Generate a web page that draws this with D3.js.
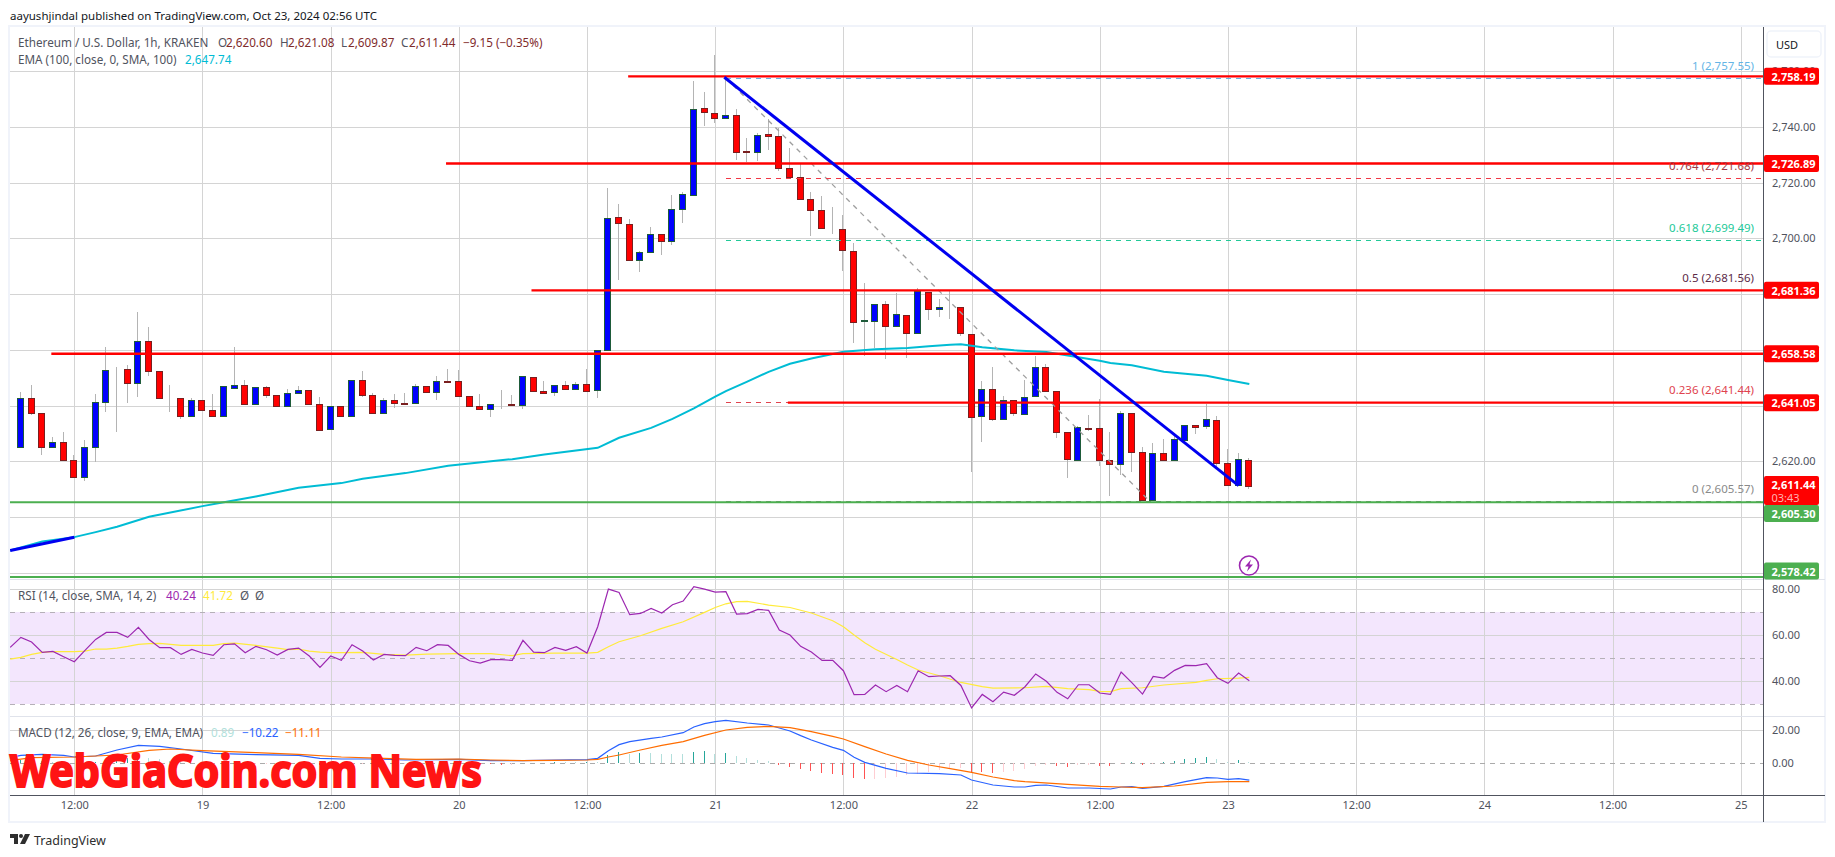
<!DOCTYPE html>
<html>
<head>
<meta charset="utf-8">
<title>ETH/USD 1h</title>
<script src="https://cdn.jsdelivr.net/npm/d3@7"></script>
<style>
	html, body { margin: 0; padding: 0; background: #fff; }
	svg { display: block; }
	text { font-family: "Noto Sans", sans-serif; }
	.domain { display: none; }
</style>
</head>
<body>
<div id="chart"></div>
<script>
// hourly candles, first one is Oct 18 06:00, last one Oct 23 02:00
var opens = [2625.08,2625.08,2642.67,2637.29,2624.96,2626.87,2620.41,2614.19,2624.96,2641.1,2653.08,2653.08,2647.94,2663.13,2652.36,2642.6,2642.67,2636.2,2641.95,2638.36,2636.09,2646.14,2647.34,2640.4,2646.62,2643.75,2639.68,2644.35,2645.54,2640.52,2631.42,2639.8,2636.09,2649.13,2643.75,2637.17,2641.95,2640.9,2640.76,2646.98,2644.7,2648.9,2648.77,2643.39,2639.8,2638.6,2640.5,2640.6,2640.04,2650.21,2645.18,2644.7,2647.34,2645.78,2647.7,2645.54,2659.78,2707.58,2705.07,2692.02,2695.01,2701.47,2698.96,2710.45,2715.84,2746.71,2745.15,2743.48,2744.44,2731.4,2731.27,2737.38,2736.66,2725.17,2721.94,2714.04,2710.09,2703.7,2703.27,2695.61,2670.5,2670.6,2676.59,2668.81,2672.63,2666.18,2680.65,2674.43,2675.3,2675.27,2665.8,2636.02,2645.83,2634.94,2641.88,2637.1,2643.2,2653.73,2645.1,2630.4,2620.22,2631.9,2631.83,2620.34,2618.79,2637.22,2623.22,2605.87,2622.86,2620.22,2627.88,2633.15,2632.43,2634.7,2619.27,2611.25,2620.6];
var highs = [2625.2,2644.8,2647.46,2637.29,2628.67,2630.47,2622.33,2627.71,2644.1,2660.98,2653.8,2654.6,2673.54,2668.28,2652.36,2647.34,2642.67,2642.67,2641.95,2644.1,2646.98,2660.98,2649.25,2646.62,2647.1,2643.75,2646.02,2647.1,2645.54,2642.91,2639.8,2639.8,2649.13,2652.48,2644.47,2642.67,2644.23,2644.6,2647.81,2646.98,2650.69,2653.2,2652.84,2643.39,2644.23,2640.52,2645.66,2643.87,2650.57,2650.21,2648.9,2647.34,2648.9,2648.53,2653.08,2659.9,2718,2712.36,2706.98,2695.49,2703.99,2701.47,2715.6,2716.56,2756.52,2752.57,2765.85,2757.84,2746.35,2736.06,2737.74,2742.88,2739.65,2732.35,2726.73,2716.56,2715.24,2711.29,2708.42,2698.24,2683.89,2676.59,2677.54,2680.29,2672.63,2682.09,2680.65,2678.26,2681.25,2675.27,2665.8,2648.71,2653.85,2643.32,2642.1,2649.06,2657.8,2654.8,2645.1,2630.4,2632.67,2636.62,2642.36,2630.4,2638.05,2637.22,2625.01,2626.45,2627.88,2630,2633.15,2633.15,2640.57,2636.14,2624.29,2622.86,2621.08];
var lows = [2625,2625.08,2636.7,2622.09,2624.96,2620.29,2614.19,2612.76,2619.58,2637.52,2630.35,2641.1,2642.91,2650.45,2642.67,2637.53,2635.01,2636.2,2638.24,2636.09,2636.09,2646.14,2640.4,2640.4,2642.79,2639.68,2639.68,2644.35,2640.4,2631.06,2631.42,2636.09,2636.09,2642.9,2637.17,2637.17,2639.2,2640.5,2640.76,2644.7,2642.07,2648.3,2643.27,2639.68,2638.6,2635.73,2638.6,2640.16,2638.6,2645.06,2644.35,2643.5,2645.78,2645.78,2645.18,2642.55,2659.78,2685.08,2692.02,2687.95,2695.01,2694.06,2697.65,2705.67,2715.36,2740.37,2741.56,2743.48,2728.16,2727.44,2727.92,2731.75,2724.33,2721.94,2714.04,2701,2703.63,2701.72,2688.43,2662.58,2657.92,2660.79,2656.84,2668.81,2657.2,2666.18,2670.72,2671.8,2671.08,2665.1,2616.28,2627.05,2634.5,2634.94,2636.38,2637.1,2643.2,2644.99,2628.36,2614.12,2620.22,2630.9,2618.31,2607.66,2615.08,2616.28,2605.87,2605.87,2620.22,2620.22,2626.45,2629.68,2631.71,2617.71,2611.25,2611.25,2609.87];
var closes = [2625.12,2642.67,2637.17,2624.96,2626.87,2620.29,2614.19,2625.08,2641.24,2652.72,2653.2,2647.94,2663.13,2652.24,2642.67,2642.67,2636.2,2641.83,2638.24,2636.09,2646.98,2647.34,2640.4,2646.62,2643.63,2639.68,2644.47,2645.54,2640.4,2631.06,2639.8,2636.09,2649.13,2643.63,2637.17,2641.95,2640.76,2640.7,2646.98,2644.7,2648.77,2648.7,2643.27,2639.68,2638.6,2640.52,2640.6,2640.4,2650.57,2645.06,2644.35,2647.34,2645.78,2647.7,2645.18,2659.9,2707.2,2705.3,2692.02,2695.01,2701.47,2698.96,2710.45,2715.84,2746.59,2745.27,2743.48,2744.44,2731.27,2731.2,2737.26,2736.66,2725.17,2721.94,2714.04,2710.09,2703.63,2703.55,2695.61,2670.24,2670.7,2676.59,2668.81,2672.99,2666.18,2681.25,2674.43,2675.27,2675.2,2665.8,2636.02,2645.83,2634.94,2641.88,2637.1,2643.2,2653.73,2644.99,2630.4,2620.58,2632.19,2631.7,2620.22,2618.79,2637.22,2623.1,2605.87,2622.86,2620.22,2627.88,2633.15,2632.43,2635.06,2619.15,2611.25,2620.7,2611.44];

// EMA 100, read at these candle indexes
var emaHours = [0,3,6,8,10,13,18,20,23,27,31,33,37,41,47,50,55,57,60,62,64,66,67,69,71,73,75,78,81,84,86,88,89,91,94,97,99,102,103,105,108,112,114,116];
var emaValues = [2587.99,2591.2,2592.77,2594.57,2596.48,2600.07,2603.9,2605.3,2607.37,2610.48,2612.16,2613.71,2615.75,2618.38,2620.77,2622.45,2624.84,2628.43,2632,2635.2,2639,2643.2,2645.2,2648.6,2652.1,2655,2656.9,2659.35,2660.2,2660.67,2661.27,2661.87,2661.99,2660.9,2659.83,2659.23,2658,2656.1,2655.29,2654.45,2652.17,2650.74,2649.18,2647.74];

var rsiValues = [54.75,59.1,57.07,52.58,53,50.7,48.5,53.45,58.2,61.27,61.27,59.1,63.45,58.2,54.6,54.6,51.7,53.88,52.29,51.27,55.9,56.3,52.43,55.2,53.74,51.42,53.88,54.46,50.98,46.06,50.98,49.1,55.9,53.16,49.25,51.7,51.27,51.13,54.75,53.3,55.9,55.6,51.7,48.95,47.94,49.39,49.39,49.1,57.8,52.72,52.43,54.75,53.45,55.04,52.29,63.74,80.1,78.66,68.95,69.5,71.7,69.68,73.3,74.9,81.13,80.1,78.8,78.95,69.24,69.4,71.27,70.84,62.3,60.1,55.2,52.7,49.1,49.1,44.6,34.2,34.3,38.4,35.5,38.2,35.5,44.6,42,42.3,42.43,38.2,28.4,34.3,31.1,35.3,33.9,37.65,43.2,40,35.2,32.4,38.5,38.5,34.9,34.3,44,39.4,34.46,42.14,41.4,44.75,46.93,46.8,47.65,41.56,39.1,43.6,40.24];
var rsiSmaHours = [0,1,2,3,4,6,7,8,9,10,11,12,13,14,15,16,18,19,20,21,23,25,26,27,28,29,30,31,33,34,35,37,39,42,45,47,48,51,54,55,56,57,59,61,63,65,66,67,68,69,71,73,75,77,78,79,80,81,83,84,85,87,89,91,92,95,97,99,101,102,103,104,106,108,111,112,113,115,116];
var rsiSmaValues = [49.68,50.4,51.7,52.58,52.87,52.87,53.16,54.03,54.03,54.46,55.19,56.06,56.34,56.49,56.06,55.62,55.62,55.62,56.34,56.63,55.62,54.46,53.74,54.03,53.16,52.72,52.43,52.43,52.58,52.14,51.7,51.42,51.85,52,52,51.13,52,52.29,52.29,52.58,55.04,57.2,59.8,63,65.9,69.97,72.1,73.7,74.6,74.75,73.16,72.1,69.7,66.3,63.7,60.1,56.8,53.9,49.5,47.07,44.9,42.43,39.5,37.65,37.07,37.2,37.8,36.8,36.35,35.6,35.5,36.8,37.2,38.4,39.5,40.4,41.1,41.4,41.72];

var macdHours = [0,1,3,5,6,8,10,12,14,16,19,23,27,29,31,34,37,42,45,48,51,54,55,56,57,58,60,61,63,64,65,66,67,69,71,73,74,75,77,78,79,80,82,84,87,89,90,92,94,95,96,97,99,101,103,104,105,106,108,110,111,112,113,114,115,116];
var macdValues = [3.4,4.83,5.43,4.83,3.82,4.42,8.06,10.89,10.28,8.66,6.04,5.23,4.83,3.01,2.61,2.61,2,2.41,1.6,1.6,2,2.21,3.01,7.66,11.29,13.1,15.13,15.94,18.56,22,24,25.23,26.04,24.42,23.21,19.57,16.75,14.12,9.67,7.86,3.61,0.59,-3.05,-5.88,-6.29,-7.09,-10.12,-13.15,-14.36,-14.36,-13.35,-13.15,-14.97,-14.97,-15.58,-14.36,-14.16,-15.17,-13.96,-11.13,-9.92,-8.71,-8.91,-9.72,-9.31,-10.22];
var signalHours = [0,2,6,10,13,15,18,23,27,31,35,38,42,45,48,51,54,55,56,57,59,61,63,65,67,69,71,73,75,77,78,80,82,84,86,88,90,92,94,95,99,102,104,106,109,112,114,116];
var signalValues = [1.6,3.41,3.82,5.03,7.86,8.67,7.66,6.44,5.43,3.82,3.01,2.41,2.61,2,1.6,1.8,2,2.41,3.82,5.03,8.06,10.89,13.1,16.95,20.18,21.8,22.4,21.6,19.17,16.34,14.73,10.08,5.64,1.8,-1.03,-3.25,-5.48,-8.3,-10.53,-11.13,-12.75,-13.96,-14.36,-14.77,-13.76,-11.54,-11.13,-11.11];
var histValues = [0.8,2,1.8,1.4,1,0.6,0.2,0.2,1,2,2.8,3,3.8,3,2.6,1.6,0.8,0.4,-0.4,-0.6,-0.4,-0.4,-0.8,-0.6,-0.6,-0.8,-0.6,-0.6,-0.8,-1.2,-1.2,-1.2,-0.6,-0.4,-0.6,-0.6,-0.6,-0.4,-0.2,0.2,0.2,0.2,0.2,-0.2,-0.4,-0.6,-0.8,-0.8,0.2,0.2,0.2,0.6,0.6,0.6,0.8,0.6,5.05,6.67,5.66,6.26,6.26,5.66,5.66,5.66,6.87,7.47,5.66,6.26,4.44,3.23,2.02,1.21,-1.01,-2.02,-3.23,-4.44,-5.66,-6.46,-7.07,-8.69,-9.29,-9.29,-8.69,-8.08,-7.27,-6.46,-5.25,-4.04,-3.23,-2.83,-5.05,-5.25,-5.86,-5.05,-4.44,-3.23,-1.82,-1.21,-1.41,-2.02,-1.21,-1.01,-1.41,-1.45,-0.2,0.81,-1.01,-0.2,0.81,1.41,2.63,3.23,3.84,2.63,0.61,2.02,0.89];

// horizontal levels drawn on the chart
var levelPrices = [2758.19,2726.89,2681.36,2658.58,2641.05];
var levelStartHours = [57.85,40.8,48.8,3.85,72.8];
var supportPrices = [2605.3,2578.42];
var fibRatios = ["1","0.764","0.618","0.5","0.236","0"];
var fibPrices = [2757.55,2721.68,2699.49,2681.56,2641.44,2605.57];
var fibColors = ["#64b5e6","#f23645","#22c998","#5d2a48","#e0434e","#8a8a8a"];
var fibTextColors = ["#64b5e6","#a33a44","#22c998","#5d2a48","#e0434e","#8a8a8a"];

var priceTicks = [2760,2740,2720,2700,2680,2660,2640,2620,2600,2580];
var rsiTicks = [80,60,40];
var rsiLevels = [70,50,30];
var macdTicks = [20,0];
var timeTicks = [6,18,30,42,54,66,78,90,102,114,126,138,150,162];
var timeLabels = ["12:00","19","12:00","20","12:00","21","12:00","22","12:00","23","12:00","24","12:00","25"];

var W = 1835, H = 857;
var paneLeft = 10, axisX = 1763, frameRight = 1825, paneTop = 27, mainBottom = 579, rsiBottom = 716, macdBottom = 795, frameBottom = 822;

var x = d3.scaleLinear().domain([0, 162]).range([10.2, 1740.7]);
var y = d3.scaleLinear().domain([2760, 2580]).range([71.3, 572.7]);
var yRsi = d3.scaleLinear().domain([80, 40]).range([589.3, 681.3]);
var yMacd = d3.scaleLinear().domain([20, 0]).range([730.3, 763.3]);

var svg = d3.select('#chart').append('svg').attr('width', W).attr('height', H);

function crisp(v) { return Math.round(v) + 0.5; }

function label(g, px, py, txt, color, opts) {
	opts = opts || {};
	return g.append('text')
		.attr('x', px).attr('y', py)
		.attr('fill', color)
		.attr('font-size', opts.size || 11.7)
		.attr('font-weight', opts.weight || 400)
		.attr('text-anchor', opts.anchor || 'start')
		.attr('dominant-baseline', 'central')
		.text(txt);
}

// panes and grid
var grid = svg.append('g').attr('shape-rendering', 'crispEdges');

grid.append('rect')
	.attr('x', paneLeft).attr('width', axisX - paneLeft)
	.attr('y', yRsi(70)).attr('height', yRsi(30) - yRsi(70))
	.attr('fill', '#f3e6fd');

function hGrid(scale, ticks) {
	var g = grid.append('g').attr('transform', 'translate(' + paneLeft + ',0)')
		.call(d3.axisLeft(scale).tickValues(ticks).tickSize(-(axisX - paneLeft)).tickFormat(''));
	g.selectAll('line').attr('stroke', '#d4d4d4');
}
hGrid(y, priceTicks);
hGrid(yRsi, rsiTicks);
hGrid(yMacd, [20]);

var xGrid = grid.append('g').attr('transform', 'translate(0,' + macdBottom + ')')
	.call(d3.axisBottom(x).tickValues(timeTicks).tickSize(-(macdBottom - paneTop)).tickFormat(''));
xGrid.selectAll('line').attr('stroke', '#d4d4d4');

grid.selectAll('.level')
	.data(rsiLevels)
	.enter().append('line')
	.attr('x1', paneLeft).attr('x2', axisX)
	.attr('y1', function(d) { return crisp(yRsi(d)); })
	.attr('y2', function(d) { return crisp(yRsi(d)); })
	.attr('stroke', '#b5b0b8')
	.attr('stroke-dasharray', '5 5');

grid.append('line')
	.attr('x1', paneLeft).attr('x2', axisX)
	.attr('y1', crisp(yMacd(0))).attr('y2', crisp(yMacd(0)))
	.attr('stroke', '#ababab')
	.attr('stroke-dasharray', '5 5');

// candles
var clip = svg.append('defs').append('clipPath').attr('id', 'plot');
clip.append('rect').attr('x', paneLeft).attr('y', paneTop).attr('width', axisX - paneLeft).attr('height', frameBottom - paneTop);

var plot = svg.append('g').attr('clip-path', 'url(#plot)');
var candles = plot.append('g').attr('shape-rendering', 'crispEdges');

var candle = candles.selectAll('g')
	.data(opens)
	.enter().append('g');

candle.append('line')
	.attr('x1', function(d, i) { return crisp(x(i)) - 1; })
	.attr('x2', function(d, i) { return crisp(x(i)) - 1; })
	.attr('y1', function(d, i) { return y(highs[i]); })
	.attr('y2', function(d, i) { return y(lows[i]); })
	.attr('stroke', '#b4b4b4');

candle.append('rect')
	.attr('x', function(d, i) { return crisp(x(i)) - 4; })
	.attr('width', 6)
	.attr('y', function(d, i) { return crisp(y(Math.max(d, closes[i]))); })
	.attr('height', function(d, i) { return Math.round(Math.abs(y(d) - y(closes[i]))); })
	.attr('fill', function(d, i) { return closes[i] >= d ? '#0000ff' : '#ff0000'; })
	.attr('stroke', function(d, i) { return closes[i] >= d ? '#1e5b3a' : '#7a1f1f'; });

var lineOf = function(xs, ys, scale) {
	return d3.line().x(function(d, i) { return x(xs[i]); }).y(function(d) { return scale(d); })(ys);
};
var hoursOf = function(arr) { return arr.map(function(d, i) { return i; }); };

// EMA, and the short blue trendline sitting on the start of it
plot.append('path').attr('d', lineOf(emaHours, emaValues, y))
	.attr('fill', 'none').attr('stroke', '#00bcd4').attr('stroke-width', 2);

plot.append('path').attr('d', lineOf([0, 6], [2587.99, 2592.7], y))
	.attr('fill', 'none').attr('stroke', '#0000f0').attr('stroke-width', 3);

// fib retracement
var fibStart = 67;
plot.append('line')
	.attr('x1', x(fibStart)).attr('y1', y(2757.55))
	.attr('x2', x(106.7)).attr('y2', y(2605.57))
	.attr('stroke', '#9e9e9e').attr('stroke-width', 1.3).attr('stroke-dasharray', '5 5');

plot.selectAll('.fib')
	.data(fibPrices)
	.enter().append('line')
	.attr('shape-rendering', 'crispEdges')
	.attr('x1', x(fibStart)).attr('x2', axisX)
	.attr('y1', function(d) { return crisp(y(d)); })
	.attr('y2', function(d) { return crisp(y(d)); })
	.attr('stroke', function(d, i) { return fibColors[i]; })
	.attr('stroke-dasharray', '5 5');

// drawn levels
plot.selectAll('.lvl')
	.data(levelPrices)
	.enter().append('line')
	.attr('x1', function(d, i) { return x(levelStartHours[i]); })
	.attr('x2', axisX)
	.attr('y1', function(d) { return y(d); })
	.attr('y2', function(d) { return y(d); })
	.attr('stroke', '#ff0000').attr('stroke-width', 2.4);

plot.selectAll('.sup')
	.data(supportPrices)
	.enter().append('line')
	.attr('x1', paneLeft).attr('x2', axisX)
	.attr('y1', function(d) { return y(d); })
	.attr('y2', function(d) { return y(d); })
	.attr('stroke', '#4caf50').attr('stroke-width', 2);

// main falling trendline
plot.append('line')
	.attr('x1', x(66.85)).attr('y1', y(2757.85))
	.attr('x2', x(115)).attr('y2', y(2611.25))
	.attr('stroke', '#0000f0').attr('stroke-width', 3);

// fib labels
var fibLabels = svg.append('g');
fibPrices.forEach(function(p, i) {
	label(fibLabels, 1754, y(p) - 12.5, fibRatios[i] + ' (' + d3.format(',.2f')(p) + ')', fibTextColors[i], { anchor: 'end', size: 11.5 });
});

// RSI
plot.append('path').attr('d', lineOf(rsiSmaHours, rsiSmaValues, yRsi))
	.attr('fill', 'none').attr('stroke', '#ffeb3b').attr('stroke-width', 1.2);
plot.append('path').attr('d', lineOf(hoursOf(rsiValues), rsiValues, yRsi))
	.attr('fill', 'none').attr('stroke', '#9c27b0').attr('stroke-width', 1.2);

// MACD
plot.append('g').attr('shape-rendering', 'crispEdges')
	.selectAll('line')
	.data(histValues)
	.enter().append('line')
	.attr('x1', function(d, i) { return crisp(x(i)) - 1; })
	.attr('x2', function(d, i) { return crisp(x(i)) - 1; })
	.attr('y1', yMacd(0))
	.attr('y2', function(d) { return yMacd(d); })
	.attr('stroke', function(d, i) {
		var prev = i > 0 ? histValues[i - 1] : d;
		if (d >= 0) return d > prev ? '#26a69a' : '#b2dfdb';
		return d < prev ? '#ff5252' : '#ffcdd2';
	});
plot.append('path').attr('d', lineOf(macdHours, macdValues, yMacd))
	.attr('fill', 'none').attr('stroke', '#2962ff').attr('stroke-width', 1.2);
plot.append('path').attr('d', lineOf(signalHours, signalValues, yMacd))
	.attr('fill', 'none').attr('stroke', '#ff6d00').attr('stroke-width', 1.2);

// frame and separators
var frame = svg.append('g').attr('shape-rendering', 'crispEdges');
frame.append('rect')
	.attr('x', paneLeft - 1).attr('y', paneTop - 1)
	.attr('width', frameRight - paneLeft + 1).attr('height', frameBottom - paneTop + 1)
	.attr('fill', 'none').attr('stroke', '#f0f3fa').attr('stroke-width', 2);
frame.append('line').attr('x1', paneLeft).attr('x2', frameRight).attr('y1', mainBottom + 0.5).attr('y2', mainBottom + 0.5).attr('stroke', '#e0e3eb');
frame.append('line').attr('x1', paneLeft).attr('x2', frameRight).attr('y1', rsiBottom + 0.5).attr('y2', rsiBottom + 0.5).attr('stroke', '#e0e3eb');
frame.append('line').attr('x1', paneLeft).attr('x2', frameRight).attr('y1', macdBottom + 0.5).attr('y2', macdBottom + 0.5).attr('stroke', '#50535e');
frame.append('line').attr('x1', axisX + 0.5).attr('x2', axisX + 0.5).attr('y1', paneTop).attr('y2', frameBottom).attr('stroke', '#50535e');

// axis labels
function yAxis(scale, ticks) {
	var g = svg.append('g').attr('transform', 'translate(' + (axisX + 9) + ',0)')
		.call(d3.axisRight(scale).tickValues(ticks).tickSize(0).tickPadding(0).tickFormat(d3.format(',.2f')));
	g.selectAll('text').attr('fill', '#50535e').attr('font-size', 11).attr('font-family', '"Noto Sans", sans-serif');
}
yAxis(y, priceTicks);
yAxis(yRsi, rsiTicks);
yAxis(yMacd, macdTicks);

var timeAxis = svg.append('g').attr('transform', 'translate(0,' + macdBottom + ')')
	.call(d3.axisBottom(x).tickValues(timeTicks).tickSize(0).tickPadding(6)
		.tickFormat(function(d, i) { return timeLabels[i]; }));
timeAxis.selectAll('text').attr('fill', '#50535e').attr('font-size', 11).attr('font-family', '"Noto Sans", sans-serif');

// price tags, the two green ones get pushed off their line so they do not collide
var tags = svg.append('g');
function tag(cy, color, txt) {
	tags.append('rect').attr('x', axisX + 1).attr('y', cy - 8.5).attr('width', 55).attr('height', 17).attr('rx', 2).attr('fill', color);
	label(tags, axisX + 8.5, cy, txt, '#fff', { weight: 700, size: 11 });
}
levelPrices.forEach(function(p) { tag(y(p), '#ff0000', d3.format(',.2f')(p)); });
tag(513.5, '#4caf50', d3.format(',.2f')(supportPrices[0]));
tag(571, '#4caf50', d3.format(',.2f')(supportPrices[1]));

var lastClose = closes[closes.length - 1];
tags.append('rect').attr('x', axisX + 1).attr('y', 476).attr('width', 55).attr('height', 29).attr('rx', 2).attr('fill', '#ff0000');
label(tags, axisX + 8.5, 484.5, d3.format(',.2f')(lastClose), '#fff', { weight: 700, size: 11 });
label(tags, axisX + 8.5, 497, '03:43', '#ffb3b3', { size: 11 });

// currency button
tags.append('rect').attr('x', 1767).attr('y', 31).attr('width', 54).attr('height', 26).attr('rx', 4)
	.attr('fill', '#fff').attr('stroke', '#f0f3fa').attr('stroke-width', 1.5);
label(tags, 1776, 44, 'USD', '#131722', { size: 11 });

// header and legends
var head = svg.append('g');
label(head, 10, 15, 'aayushjindal published on TradingView.com, Oct 23, 2024 02:56 UTC', '#131722', { size: 11.5 });

var gray = '#50535e', brown = '#7f2b2b';
label(head, 18, 42, 'Ethereum / U.S. Dollar, 1h, KRAKEN', gray);
label(head, 218, 42, 'O', gray); label(head, 226, 42, '2,620.60', brown);
label(head, 280, 42, 'H', gray); label(head, 288, 42, '2,621.08', brown);
label(head, 341, 42, 'L', gray); label(head, 348, 42, '2,609.87', brown);
label(head, 401, 42, 'C', gray); label(head, 409, 42, '2,611.44', brown);
label(head, 463, 42, '\u22129.15 (\u22120.35%)', brown);
label(head, 18, 59, 'EMA (100, close, 0, SMA, 100)', gray);
label(head, 185, 59, '2,647.74', '#00bcd4');

label(head, 18, 595, 'RSI (14, close, SMA, 14, 2)', gray);
label(head, 166, 595, '40.24', '#9c27b0');
label(head, 203, 595, '41.72', '#ffeb3b');
label(head, 240, 595, '\u00d8', gray);
label(head, 255, 595, '\u00d8', gray);

label(head, 18, 732, 'MACD (12, 26, close, 9, EMA, EMA)', gray);
label(head, 211, 732, '0.89', '#b2dfdb');
label(head, 242, 732, '\u221210.22', '#2962ff');
label(head, 285, 732, '\u221211.11', '#ff6d00');

// event marker
var marker = svg.append('g').attr('transform', 'translate(1249,565.5)');
marker.append('circle').attr('r', 9.5).attr('fill', '#fff').attr('stroke', '#9c27b0').attr('stroke-width', 1.6);
marker.append('path').attr('d', 'M2,-6 L-4,1 L-0.5,1 L-2,6 L4,-1 L0.5,-1 Z').attr('fill', '#9c27b0');

// watermark
svg.append('text')
	.attr('x', 10).attr('y', 787)
	.attr('textLength', 472).attr('lengthAdjust', 'spacingAndGlyphs')
	.attr('fill', '#ff1414').attr('stroke', '#ff1414').attr('stroke-width', 2)
	.attr('font-size', 45).attr('font-weight', 700)
	.attr('font-family', '"DejaVu Serif", serif')
	.text('WebGiaCoin.com News');

// TradingView mark
var logo = svg.append('g').attr('transform', 'translate(10,834)').attr('fill', '#2e2e2e');
logo.append('path').attr('d', 'M0,0 H8 V10 H4 V4 H0 Z');
logo.append('circle').attr('cx', 11).attr('cy', 2).attr('r', 2);
logo.append('path').attr('d', 'M15,0 H20 L15,10 H10 Z');
label(svg, 34, 840, 'TradingView', '#2e2e2e', { size: 12.5 });
</script>
</body>
</html>
